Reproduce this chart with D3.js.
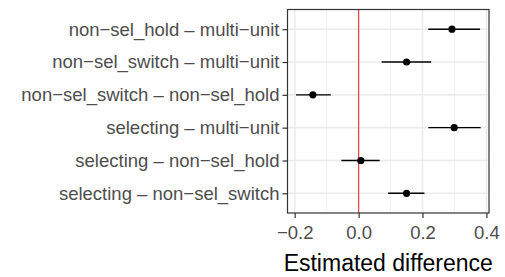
<!DOCTYPE html>
<html>
<head>
<meta charset="utf-8">
<script src="https://cdn.jsdelivr.net/npm/d3@7"></script>
<style>
  body { margin: 0; background: #fff; }
  svg { display: block; font-family: "Liberation Sans", Arial, sans-serif; }
</style>
</head>
<body>
<div id="chart"></div>
<script>
// data
var contrasts = [
  "non\u2212sel_hold \u2013 multi\u2212unit",
  "non\u2212sel_switch \u2013 multi\u2212unit",
  "non\u2212sel_switch \u2013 non\u2212sel_hold",
  "selecting \u2013 multi\u2212unit",
  "selecting \u2013 non\u2212sel_hold",
  "selecting \u2013 non\u2212sel_switch"
];
var estimate = [0.292, 0.150, -0.143, 0.299, 0.007, 0.150];
var lower = [0.218, 0.072, -0.196, 0.218, -0.054, 0.092];
var upper = [0.380, 0.227, -0.087, 0.382, 0.066, 0.206];
var xTicks = [-0.2, 0.0, 0.2, 0.4];
var xMinor = [-0.1, 0.1, 0.3];

var rows = contrasts.map(function (c, i) {
  return { label: c, est: estimate[i], lo: lower[i], hi: upper[i] };
});

var W = 505, H = 277;
var margin = { top: 9.5, right: 16, bottom: 64, left: 287.5 };
var width = W - margin.left - margin.right;
var height = H - margin.top - margin.bottom;

var svg = d3.select("#chart").append("svg")
  .attr("width", W).attr("height", H)
  .append("g")
  .attr("transform", "translate(" + margin.left + "," + margin.top + ")");

var x = d3.scaleLinear().domain([-0.2225, 0.408]).range([0, width]);

// discrete y with ggplot-style expansion of 0.6
var y = d3.scaleLinear().domain([0.4, contrasts.length + 0.6]).range([0, height]);
function yPos(i) { return y(i + 1); }

// grid
svg.selectAll(".minor").data(xMinor).enter().append("line")
  .attr("x1", function (d) { return x(d); }).attr("x2", function (d) { return x(d); })
  .attr("y1", 0).attr("y2", height)
  .attr("stroke", "#f2f2f2").attr("stroke-width", 1);
svg.selectAll(".majorx").data(xTicks).enter().append("line")
  .attr("x1", function (d) { return x(d); }).attr("x2", function (d) { return x(d); })
  .attr("y1", 0).attr("y2", height)
  .attr("stroke", "#ebebeb").attr("stroke-width", 1.6);
svg.selectAll(".majory").data(rows).enter().append("line")
  .attr("x1", 0).attr("x2", width)
  .attr("y1", function (d, i) { return yPos(i); }).attr("y2", function (d, i) { return yPos(i); })
  .attr("stroke", "#ebebeb").attr("stroke-width", 1.6);

// zero line
svg.append("line")
  .attr("x1", x(0)).attr("x2", x(0))
  .attr("y1", 0).attr("y2", height)
  .attr("stroke", "#e8453f").attr("stroke-width", 1.2);

// error bars
svg.selectAll(".bar").data(rows).enter().append("line")
  .attr("x1", function (d) { return x(d.lo); }).attr("x2", function (d) { return x(d.hi); })
  .attr("y1", function (d, i) { return yPos(i); }).attr("y2", function (d, i) { return yPos(i); })
  .attr("stroke", "#000").attr("stroke-width", 1.4);

svg.selectAll(".pt").data(rows).enter().append("circle")
  .attr("cx", function (d) { return x(d.est); })
  .attr("cy", function (d, i) { return yPos(i); })
  .attr("r", 3.6).attr("fill", "#000");

// panel border
svg.append("rect")
  .attr("x", 0).attr("y", 0).attr("width", width).attr("height", height)
  .attr("fill", "none").attr("stroke", "#333").attr("stroke-width", 1.2);

// x axis
var xAxis = svg.append("g")
  .attr("transform", "translate(0," + height + ")")
  .call(d3.axisBottom(x).tickValues(xTicks).tickSize(5).tickPadding(8)
    .tickFormat(function (d) { return d3.format(".1f")(d).replace("-", "\u2212"); }));
xAxis.select(".domain").remove();
xAxis.selectAll("line").attr("stroke", "#333").attr("stroke-width", 1.2);
xAxis.selectAll("text").attr("fill", "#4d4d4d").style("font-size", "18.5px")
  .style("font-family", "'Liberation Sans', Arial, sans-serif");

// y axis
var yAxis = svg.append("g")
  .call(d3.axisLeft(y).tickValues(d3.range(1, contrasts.length + 1)).tickSize(5).tickPadding(3)
    .tickFormat(function (d) { return contrasts[d - 1]; }));
yAxis.select(".domain").remove();
yAxis.selectAll("line").attr("stroke", "#333").attr("stroke-width", 1.2);
yAxis.selectAll("text").attr("fill", "#4d4d4d").style("font-size", "18.5px")
  .style("font-family", "'Liberation Sans', Arial, sans-serif");

// axis title
svg.append("text")
  .attr("x", width / 2)
  .attr("y", height + 58)
  .attr("text-anchor", "middle")
  .style("font-size", "23px")
  .attr("fill", "#000")
  .text("Estimated difference");
</script>
</body>
</html>
